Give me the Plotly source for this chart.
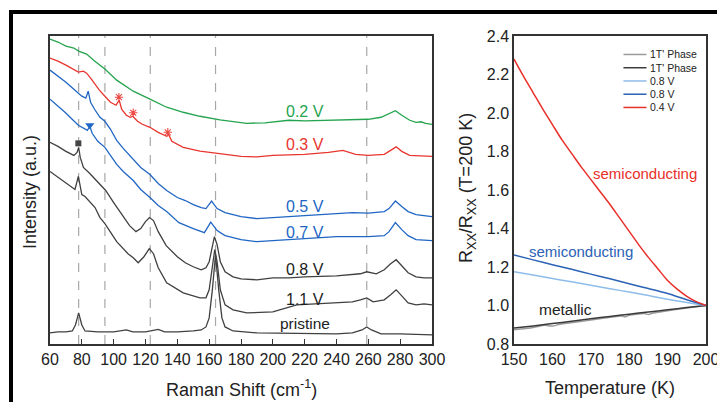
import plotly.graph_objects as go

# ---------------- Left panel: Raman spectra (arbitrary units) ----------------
g_x = [60, 65, 70, 75, 78, 83, 88, 91.4, 94.5, 101.9, 112.3, 122.8, 133.3, 143.7, 154.2, 166.8, 175, 183.6, 195, 202, 210, 220, 230, 240, 250, 260, 268, 273, 277, 281, 286, 290, 293, 296, 300]
g_y = [304, 301, 297, 295, 292, 289, 282, 278, 274, 263, 252, 244, 236, 231, 227, 223.5, 222, 220, 220.5, 222, 223, 222.5, 223, 223.5, 223.5, 224, 226, 230, 232.5, 228, 223, 221, 221.5, 220, 219]

r_x = [60, 65, 70, 75, 77.8, 81, 83, 86, 88.3, 91, 94.5, 98, 101.5, 103.5, 105, 108, 110.4, 112, 115, 118, 122.8, 128, 133.3, 134.5, 136.5, 143.7, 154.2, 166.8, 180, 190, 200, 220, 235, 244, 252, 260, 270, 274, 277.5, 281, 286, 300]
r_y = [285, 282, 278, 273, 271, 272, 270, 264, 259, 253, 247, 241, 238, 243, 234, 228, 226, 227, 222, 219, 216, 211, 207, 209, 202, 196, 192.3, 190, 187, 186.5, 188, 189, 191, 193, 189, 188, 189, 193, 196.5, 192, 188, 187]

b5_x = [60, 65, 70, 75, 80, 82.5, 84, 85.5, 88, 91.4, 94.5, 98, 101.9, 106, 112.3, 117, 122.8, 128, 133.3, 140, 145, 150, 155, 158, 161.5, 165, 170, 180, 190, 200, 220, 240, 250, 260, 270, 273, 277, 281, 285, 290, 300]
b5_y = [273, 267, 261, 254, 247, 245, 252, 241, 234, 226, 222, 214, 203, 195, 184, 176, 169, 160, 153, 146, 143, 139, 136, 135, 142.5, 135, 131, 127, 125, 126, 128, 130, 131, 130.5, 132, 135, 142.5, 137, 132, 129, 127]

b7_x = [60, 69.4, 77.8, 83.5, 85, 86.5, 90, 94.5, 101.9, 106, 112.3, 117, 122.8, 128, 133.3, 141, 150, 157, 161, 165, 170, 180, 190, 200, 220, 240, 260, 270, 273, 277, 281, 285, 290, 300]
b7_y = [244, 231, 218, 213, 217, 210, 202, 196, 179, 172, 163, 154, 146, 138, 132, 121, 115, 111, 121.5, 113, 108, 104, 102, 103, 105, 107, 107, 108, 112, 121, 114, 108, 104, 103]

k8_x = [60, 65, 70, 75, 77, 78, 79, 81, 85, 90, 95, 100, 105, 110, 114, 117, 120, 122.5, 125, 128, 133, 140, 145, 150, 155, 158, 160, 162, 163.3, 165, 167, 170, 175, 180, 190, 200, 210, 220, 240, 255, 259, 265, 270, 274, 277.5, 281, 285, 290, 295, 300]
k8_y = [201, 197, 192, 188, 191, 196, 186, 176, 170, 161, 153, 141, 129, 118, 112, 115, 122, 126, 123, 112, 98, 87, 81, 77, 74, 76, 82, 99, 107, 99, 82, 72, 67, 65, 64, 66, 66, 67, 68, 70, 72, 70, 74, 80, 84, 78, 71, 67, 66, 66]

k11_x = [60, 65, 69.4, 75.7, 77.8, 80, 82, 88.3, 91.4, 94.5, 101.9, 109, 112.3, 115.4, 119, 122.4, 125, 128, 133.3, 143.7, 154.2, 158, 160, 162, 163.5, 165, 167, 170, 175, 183.6, 200, 215, 236, 250, 255, 259, 263, 270, 274, 277.5, 281, 285, 290, 295, 300]
k11_y = [172, 166, 161, 154, 167, 149, 147, 136, 126, 120, 102, 90, 86, 81, 87, 95, 90, 76, 61, 51, 46, 46, 54, 76, 94, 82, 54, 39, 34, 31, 32, 39, 41, 42, 44, 46, 42, 44, 49, 54, 48, 41, 39, 40, 39]

p_x = [60, 65, 70, 74, 76, 78, 80, 82, 90, 100, 108, 112, 120, 128, 132, 140, 150, 155, 158, 160, 162, 164, 166, 168, 170, 175, 190, 220, 240, 250, 256, 259, 262, 268, 280, 300]
p_y = [11, 12, 12, 13, 19, 31, 19, 13, 12, 12, 14, 12, 12, 14.5, 12, 12, 13, 14, 17, 26, 54, 89, 54, 26, 17, 13, 11, 10, 10, 11, 14, 17, 14, 10, 10, 9]

dash_positions = [78, 94.5, 123, 164, 259]
raman_ticks = [60, 80, 100, 120, 140, 160, 180, 200, 220, 240, 260, 280, 300]

square_mark = ([77.8], [200])
triangle_mark = ([85], [218])
star_marks = ([103.3, 112.3, 134], [246, 230.5, 211])

labels_txt = ["0.2 V", "0.3 V", "0.5 V", "0.7 V", "0.8 V", "1.1 V", "pristine"]
labels_y = [232, 199, 137, 111, 74, 44, 20]

# ---------------- Right panel: normalized resistance ----------------
T = [150, 155, 160, 165, 170, 175, 180, 185, 190, 195, 200]
T_red = [150, 152.5, 155, 157.5, 160, 162.5, 165, 167.5, 170, 172.5, 175, 177.5, 180, 182.5, 185, 187.5, 190, 192.5, 195, 197.5, 200]
red_04 = [2.28, 2.19, 2.105, 2.02, 1.94, 1.86, 1.79, 1.72, 1.655, 1.59, 1.525, 1.455, 1.385, 1.315, 1.25, 1.19, 1.13, 1.085, 1.048, 1.02, 1.00]
blue_08 = [1.262, 1.237, 1.212, 1.188, 1.163, 1.139, 1.113, 1.088, 1.062, 1.030, 1.00]
lblue_08 = [1.175, 1.158, 1.14, 1.123, 1.105, 1.087, 1.07, 1.052, 1.032, 1.015, 1.00]
T_lg = [150, 155, 158, 160, 162, 170, 178, 179, 180, 184, 185, 186, 190, 195, 200]
lgray_1t = [0.874, 0.886, 0.897, 0.893, 0.903, 0.924, 0.946, 0.941, 0.949, 0.958, 0.953, 0.96, 0.973, 0.987, 1.0]
dgray_1t = [0.883, 0.894, 0.906, 0.918, 0.931, 0.943, 0.955, 0.966, 0.978, 0.989, 1.00]

GREEN, RED, BLUE, DARK = "#25a44f", "#e8352e", "#2166c4", "#404040"
FONT = "Arial, Liberation Sans, sans-serif"

# The page places the figure 8 px in from the top-left corner, so the
# figure is 717x394 and all layout pixel positions are relative to it.
W, H = 717, 394
def px(x):
    return x / W
def py(y):
    return 1 - y / H

fig = go.Figure()
for xs, ys, c in [(g_x, g_y, GREEN), (r_x, r_y, RED), (b5_x, b5_y, BLUE), (b7_x, b7_y, BLUE),
                  (k8_x, k8_y, DARK), (k11_x, k11_y, DARK), (p_x, p_y, DARK)]:
    fig.add_trace(go.Scatter(x=xs, y=ys, mode="lines", line=dict(color=c, width=1.3),
                             xaxis="x", yaxis="y", showlegend=False))

fig.add_trace(go.Scatter(x=square_mark[0], y=square_mark[1], mode="markers",
                         marker=dict(symbol="square", size=6, color="#444"), showlegend=False))
fig.add_trace(go.Scatter(x=triangle_mark[0], y=triangle_mark[1], mode="markers",
                         marker=dict(symbol="triangle-down", size=8, color=BLUE), showlegend=False))
fig.add_trace(go.Scatter(x=star_marks[0], y=star_marks[1], mode="markers",
                         marker=dict(symbol="asterisk-open", size=7, color="#ee4a44",
                                     line=dict(color="#ee4a44", width=1.1)),
                         showlegend=False))

label_colors = [GREEN, RED, BLUE, BLUE, "#222", "#222", "#222"]
for t, yv, c in zip(labels_txt, labels_y, label_colors):
    fig.add_annotation(x=220, y=yv, xref="x", yref="y", text=t, showarrow=False,
                       xanchor="center", yanchor="middle",
                       font=dict(size=16 if t != "pristine" else 15.5, color=c, family=FONT))

shapes = []
for xp in dash_positions:
    shapes.append(dict(type="line", xref="x", yref="y domain", x0=xp, x1=xp, y0=0, y1=1,
                       line=dict(color="#a8a8a8", width=1.2, dash="dash"), layer="below"))

# right traces
right = [(T_lg, lgray_1t, "#9a9a9a", "1T' Phase"), (T, dgray_1t, "#3a3a3a", "1T' Phase"),
         (T, lblue_08, "#8fbde9", "0.8 V"), (T, blue_08, "#2b62b5", "0.8 V"), (T_red, red_04, "#e8302a", "0.4 V")]
for xs, ys, c, nm in right:
    fig.add_trace(go.Scatter(x=xs, y=ys, mode="lines", line=dict(color=c, width=1.5, shape="spline", smoothing=0.8),
                             xaxis="x2", yaxis="y2", name=nm, showlegend=False))

# manual compact legend inside right panel
leg_y = [0.94, 0.897, 0.854, 0.811, 0.768]
for (xs, ys, c, nm), ly in zip(right, leg_y):
    shapes.append(dict(type="line", xref="x2 domain", yref="y2 domain", x0=0.57, x1=0.69, y0=ly, y1=ly,
                       line=dict(color=c, width=1.5)))
    fig.add_annotation(x=0.70, y=ly, xref="x2 domain", yref="y2 domain", text=nm, showarrow=False,
                       xanchor="left", yanchor="middle", font=dict(size=10.5, color="#222", family=FONT))

fig.add_annotation(x=184.1, y=1.688, xref="x2", yref="y2", text="semiconducting", showarrow=False,
                   xanchor="center", yanchor="middle", font=dict(size=15, color="#e8302a", family=FONT))
fig.add_annotation(x=167.5, y=1.278, xref="x2", yref="y2", text="semiconducting", showarrow=False,
                   xanchor="center", yanchor="middle", font=dict(size=15, color="#2b62b5", family=FONT))
fig.add_annotation(x=163.5, y=0.977, xref="x2", yref="y2", text="metallic", showarrow=False,
                   xanchor="center", yanchor="middle", font=dict(size=15.5, color="#222", family=FONT))

# axis titles
title_font = dict(size=18, color="#222", family=FONT)
fig.add_annotation(x=px(233), y=py(380), xref="paper", yref="paper", text="Raman Shift (cm<sup>-1</sup>)",
                   xanchor="center", yanchor="middle", showarrow=False, font=title_font)
fig.add_annotation(x=px(602), y=py(380), xref="paper", yref="paper", text="Temperature (K)",
                   xanchor="center", yanchor="middle", showarrow=False, font=title_font)
fig.add_annotation(x=px(22), y=py(184), xref="paper", yref="paper", text="Intensity (a.u.)",
                   xanchor="center", yanchor="middle", textangle=-90, showarrow=False, font=title_font)
fig.add_annotation(x=px(459), y=py(180), xref="paper", yref="paper",
                   text="R<sub>XX</sub>/R<sub>XX</sub> (T=200 K)",
                   xanchor="center", yanchor="middle", textangle=-90, showarrow=False, font=title_font)

# figure border lines
shapes.append(dict(type="line", xref="paper", yref="paper", x0=px(1), x1=1, y0=py(4), y1=py(4),
                   line=dict(color="black", width=4)))
shapes.append(dict(type="line", xref="paper", yref="paper", x0=px(3), x1=px(3), y0=0, y1=py(4),
                   line=dict(color="black", width=4)))

axis_common = dict(showline=True, mirror=True, linecolor="#333", linewidth=1.5, showgrid=False, zeroline=False,
                   automargin=False, tickfont=dict(size=16, color="#222", family=FONT))

fig.update_layout(
    width=W, height=H, margin=dict(l=0, r=0, t=0, b=0, pad=0, autoexpand=False),
    paper_bgcolor="white", plot_bgcolor="white", showlegend=False,
    xaxis=dict(domain=[px(42), px(424)], range=[60, 300], tickvals=raman_ticks, ticks="inside",
               ticklen=5, tickcolor="#333", anchor="y", **axis_common),
    yaxis=dict(domain=[py(336), py(28)], range=[0, 307], showticklabels=False, ticks="", anchor="x",
               **axis_common),
    xaxis2=dict(domain=[px(506), px(698)], range=[150, 200], dtick=10, ticks="", anchor="y2", **axis_common),
    yaxis2=dict(domain=[py(336), py(28)], range=[0.8, 2.4], dtick=0.2, tickformat=".1f", ticks="",
                anchor="x2", **axis_common),
    shapes=shapes,
)

fig.write_html("out.html")
